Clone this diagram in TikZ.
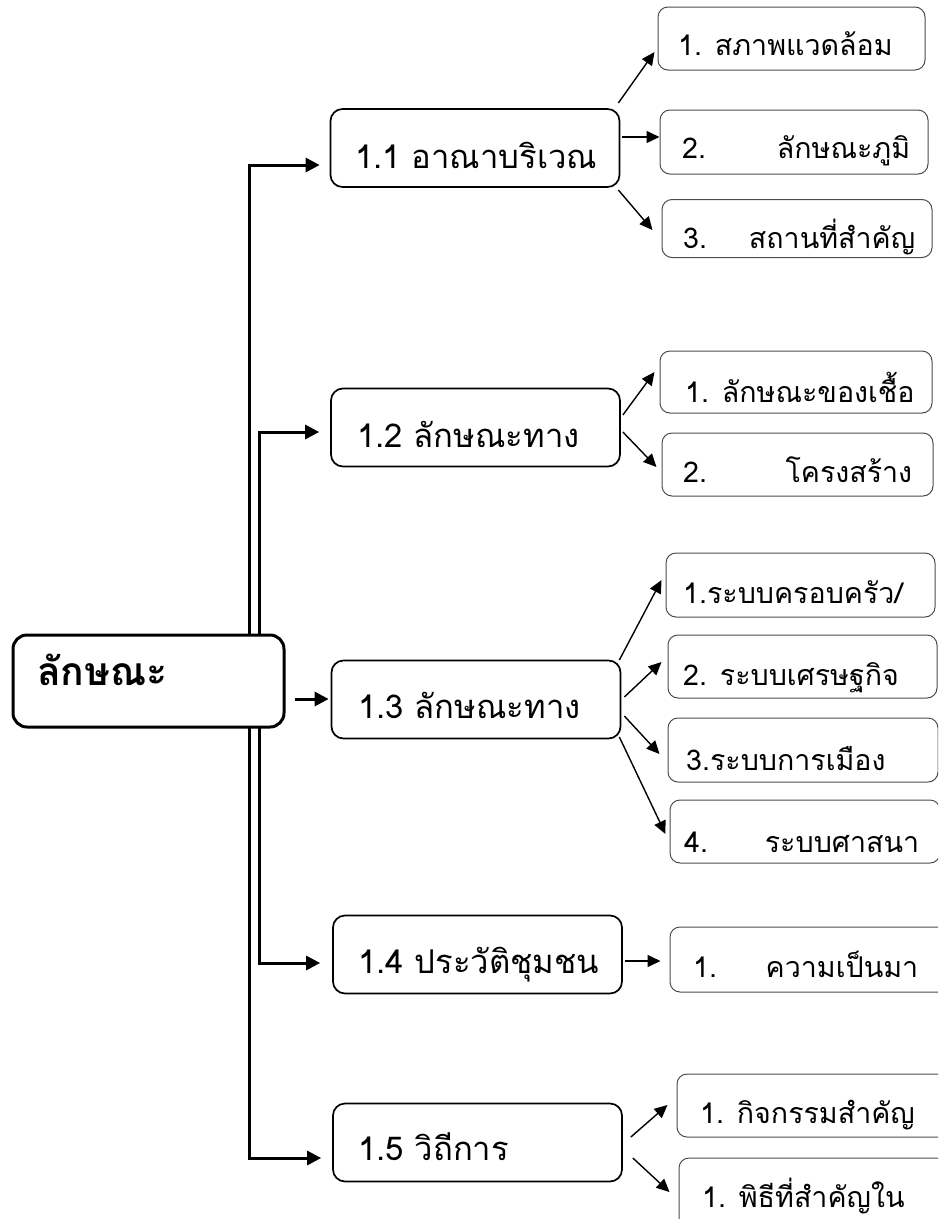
\documentclass[tikz,border=0pt]{standalone}
\usepackage{fontspec}
\setmainfont[Script=Thai]{Loma}
\usetikzlibrary{arrows.meta,calc}
\newcommand{\lonefont}{\fontsize{32.8}{36}\selectfont}
\newcommand{\ltwofont}{\fontsize{28.6}{32}\selectfont}
\newcommand{\mainfont}{\fontsize{39}{42}\selectfont\bfseries}
\begin{document}
\begin{tikzpicture}[x=1pt,y=-1pt,
  mainbox/.style={draw, line width=3pt, rounded corners=14pt, minimum width=271pt, minimum height=92pt, inner sep=0pt, fill=white},
  lonebox/.style={draw, line width=1.7pt, rounded corners=12pt, minimum width=289pt, minimum height=78pt, inner sep=0pt},
  ltwobox/.style={draw=black!70, line width=1pt, rounded corners=10pt, inner sep=0pt},
  txt/.style={anchor=base west, inner sep=0pt},
  trunk/.style={line width=3pt},
  twig/.style={line width=1.4pt, -{Triangle[length=13pt,width=12pt]}},
  tip/.tip={Triangle[length=14pt,width=14pt]}
]
\useasboundingbox (0,0) rectangle (938,1219);
\clip (0,0) rectangle (938,1219);

% level-1 boxes
\node[lonebox] (b11) at (475,148) {};
\node[lonebox] (b12) at (475.5,427.5) {};
\node[lonebox] (b13) at (476,699.5) {};
\node[lonebox] (b14) at (477.5,954.5) {};
\node[lonebox] (b15) at (477.5,1142.5) {};

% level-2 boxes
\node[ltwobox, minimum width=267pt, minimum height=63pt] (c11) at (791.5,38.5) {};
\node[ltwobox, minimum width=268pt, minimum height=64pt] (c12) at (794,142) {};
\node[ltwobox, minimum width=270pt, minimum height=58pt] (c13) at (797,228.5) {};
\node[ltwobox, minimum width=272pt, minimum height=62pt] (c21) at (796,382) {};
\node[ltwobox, minimum width=271pt, minimum height=63pt] (c22) at (797.5,464.5) {};
\node[ltwobox, minimum width=269pt, minimum height=64pt] (c31) at (800.5,585) {};
\node[ltwobox, minimum width=269pt, minimum height=63pt] (c32) at (802.5,666.5) {};
\node[ltwobox, minimum width=270pt, minimum height=64pt] (c33) at (803,750) {};
\node[ltwobox, minimum width=270pt, minimum height=63pt] (c34) at (805,831.5) {};
\node[ltwobox, minimum width=280pt, minimum height=65pt] (c41) at (810,959.5) {};
\node[ltwobox, minimum width=273pt, minimum height=63pt] (c51) at (813.5,1105.5) {};
\node[ltwobox, minimum width=271pt, minimum height=92pt] (c52) at (814.5,1204) {};

% trunk lines
\coordinate (ot) at (249,165);
\coordinate (ob) at (249,1158);
\coordinate (it) at (259,432);
\coordinate (ib) at (259,963);
\draw[trunk, tip-tip] ($(b11.west)+(-10,17)$) -- (ot) -- (ob) -- ($(b15.west)+(-11,15.5)$);
\draw[trunk, tip-tip] ($(b12.west)+(-11,4.5)$) -- (it) -- (ib) -- ($(b14.west)+(-12,8.5)$);

% main box
\node[mainbox] (main) at (148.5,681) {};
\node[txt, font=\mainfont] (tm) at (37,685) {ลักษณะ};
\draw[trunk, -tip] ($(main.east)+(9,18)$) -- ($(b13.west)+(-2,-0.5)$);

% level-1 texts
\node[txt, font=\lonefont] (t11) at (355,168) {1.1 อาณาบริเวณ};
\node[txt, font=\lonefont] (t12) at (357,447) {1.2 ลักษณะทาง};
\node[txt, font=\lonefont] (t13) at (358,718) {1.3 ลักษณะทาง};
\node[txt, font=\lonefont] (t14) at (358,973) {1.4 ประวัติชุมชน};
\node[txt, font=\lonefont] (t15) at (358,1160) {1.5 วิถีการ};

% level-2 texts
\node[txt, font=\ltwofont] (s11) at (678,55) {1. สภาพแวดล้อม};
\node[txt, font=\ltwofont] (s12) at (682,158) {\hbox to 228pt{2.\hfill ลักษณะภูมิ}};
\node[txt, font=\ltwofont] (s13) at (683,248) {\hbox to 232pt{3.\hfill สถานที่สำคัญ}};
\node[txt, font=\ltwofont] (s21) at (685,402) {1. ลักษณะของเชื้อ};
\node[txt, font=\ltwofont] (s22) at (683,482) {\hbox to 229pt{2.\hfill โครงสร้าง}};
\node[txt, font=\ltwofont] (s31) at (683,603) {1.ระบบครอบครัว/};
\node[txt, font=\ltwofont] (s32) at (683,685) {2. ระบบเศรษฐกิจ};
\node[txt, font=\ltwofont] (s33) at (686,770) {3.ระบบการเมือง};
\node[txt, font=\ltwofont] (s34) at (684,852) {\hbox to 235pt{4.\hfill ระบบศาสนา}};
\node[txt, font=\ltwofont] (s41) at (693,977) {\hbox to 225pt{1.\hfill ความเป็นมา}};
\node[txt, font=\ltwofont] (s51) at (700,1123) {1. กิจกรรมสำคัญ};
\node[txt, font=\ltwofont] (s52) at (702,1207) {1. พิธีที่สำคัญใน};

% twig arrows
\draw[twig] ($(b11.east)+(-2,-45)$) -- ($(c11.west)+(-3,13.5)$);
\draw[twig] ($(b11.east)+(2,-11)$) -- ($(c12.west)+(0,-5)$);
\draw[twig] ($(b11.east)+(-2,42)$) -- ($(c13.west)+(-9,1.5)$);
\draw[twig] ($(b12.east)+(2,-12.5)$) -- ($(c21.west)+(-5,-10)$);
\draw[twig] ($(b12.east)+(2,4.5)$) -- ($(c22.west)+(-5,2.5)$);
\draw[twig] ($(b13.east)+(-2,-39.5)$) -- ($(c31.west)+(-4,-5)$);
\draw[twig] ($(b13.east)+(3,-2.5)$) -- ($(c32.west)+(-6,-4.5)$);
\draw[twig] ($(b13.east)+(3,16.5)$) -- ($(c33.west)+(-8,4)$);
\draw[twig] ($(b13.east)+(-2,37.5)$) -- ($(c34.west)+(-4,2.5)$);
\draw[twig] ($(b14.east)+(2,6.5)$) -- ($(c41.west)+(-9,1.5)$);
\draw[twig] ($(b15.east)+(8,-5.5)$) -- ($(c51.west)+(-9,-0.5)$);
\draw[twig] ($(b15.east)+(10,15.5)$) -- ($(c52.west)+(-9,-12)$);
\end{tikzpicture}
\end{document}
